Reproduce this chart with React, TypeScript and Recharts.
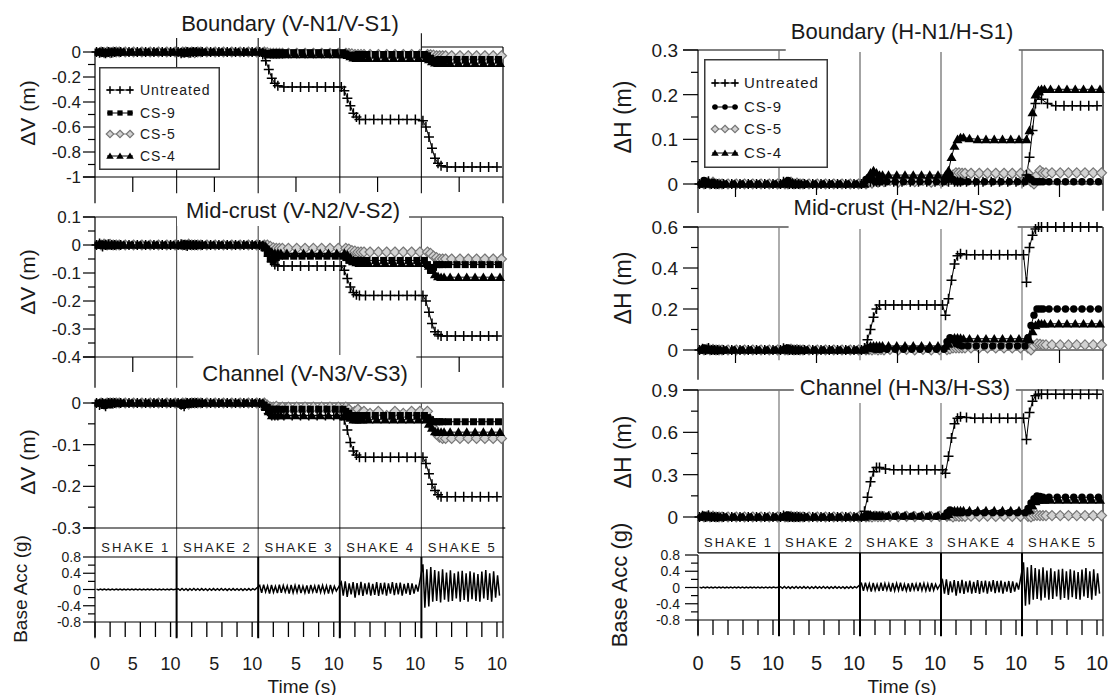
import React from 'react';
import { ComposedChart, Line, XAxis, YAxis, ReferenceLine } from 'recharts';

const FONT = '"Liberation Sans", Arial, Helvetica, sans-serif';
const SEG = 10.8; // length of one shake window on the shared time axis (s)
const XMAX = 54;
const SHAKES = ['SHAKE 1', 'SHAKE 2', 'SHAKE 3', 'SHAKE 4', 'SHAKE 5'];
const LEGEND = ['Untreated', 'CS-9', 'CS-5', 'CS-4'];

// sample times inside every shake window (s); each series is sampled with a small time offset
const T = [0.2, 0.6, 1.0, 1.4, 1.8, 2.2, 2.6, 3.4, 4.5, 5.6, 6.7, 7.8, 8.9, 10.0];
const SERIES_OFFSET = { u: 0, c9: 0.2, c4: 0.4, c5: 0.6 };

// ---------- Boundary (V-N1/V-S1) ----------
const vbUntreated = [
  [0, -0.005, 0, -0.01, 0, -0.005, 0, 0, 0, 0, 0, 0, 0, 0],
  [0, -0.01, -0.005, 0, -0.005, 0, 0, 0, 0, 0, 0, 0, 0, 0],
  [0, -0.02, -0.07, -0.14, -0.21, -0.25, -0.27, -0.28, -0.28, -0.28, -0.28, -0.28, -0.28, -0.28],
  [-0.28, -0.31, -0.37, -0.43, -0.49, -0.52, -0.54, -0.54, -0.54, -0.54, -0.54, -0.54, -0.54, -0.54],
  [-0.55, -0.6, -0.68, -0.77, -0.85, -0.89, -0.91, -0.92, -0.92, -0.92, -0.92, -0.92, -0.92, -0.92],
];
const vbCS9 = [
  [0, 0, -0.01, -0.005, 0, 0, 0, 0, 0, 0, 0, 0, 0, 0],
  [0, -0.005, -0.01, 0, 0, 0, 0, 0, 0, 0, 0, 0, 0, 0],
  [0, -0.01, -0.015, -0.01, -0.005, -0.005, -0.005, -0.005, -0.005, -0.005, -0.005, -0.005, -0.005, -0.005],
  [-0.005, -0.015, -0.025, -0.03, -0.025, -0.02, -0.02, -0.02, -0.02, -0.02, -0.02, -0.02, -0.02, -0.02],
  [-0.02, -0.03, -0.05, -0.07, -0.065, -0.06, -0.06, -0.06, -0.06, -0.06, -0.06, -0.06, -0.06, -0.06],
];
const vbCS5 = [
  [0, -0.005, 0, -0.005, 0, 0, 0, 0, 0, 0, 0, 0, 0, 0],
  [0, 0, -0.005, 0, -0.005, 0, 0, 0, 0, 0, 0, 0, 0, 0],
  [0, -0.005, -0.01, -0.01, -0.01, -0.01, -0.01, -0.01, -0.01, -0.01, -0.01, -0.01, -0.01, -0.01],
  [-0.01, -0.012, -0.015, -0.02, -0.02, -0.02, -0.02, -0.02, -0.02, -0.02, -0.02, -0.02, -0.02, -0.02],
  [-0.02, -0.022, -0.025, -0.03, -0.03, -0.03, -0.03, -0.03, -0.03, -0.03, -0.03, -0.03, -0.03, -0.03],
];
const vbCS4 = [
  [0, 0, -0.005, 0, 0, 0, 0, 0, 0, 0, 0, 0, 0, 0],
  [0, -0.005, 0, 0, 0, 0, 0, 0, 0, 0, 0, 0, 0, 0],
  [0, -0.01, -0.02, -0.02, -0.02, -0.02, -0.02, -0.02, -0.02, -0.02, -0.02, -0.02, -0.02, -0.02],
  [-0.02, -0.025, -0.035, -0.045, -0.05, -0.05, -0.05, -0.05, -0.05, -0.05, -0.05, -0.05, -0.05, -0.05],
  [-0.05, -0.06, -0.075, -0.085, -0.09, -0.09, -0.09, -0.09, -0.09, -0.09, -0.09, -0.09, -0.09, -0.09],
];

// ---------- Mid-crust (V-N2/V-S2) ----------
const vmUntreated = [
  [0, 0.005, -0.005, 0, 0.003, 0, 0, 0, 0, 0, 0, 0, 0, 0],
  [0, 0.003, 0, -0.004, 0, 0, 0, 0, 0, 0, 0, 0, 0, 0],
  [0, -0.005, -0.02, -0.04, -0.06, -0.07, -0.075, -0.075, -0.075, -0.075, -0.075, -0.075, -0.075, -0.075],
  [-0.075, -0.09, -0.12, -0.15, -0.17, -0.178, -0.18, -0.18, -0.18, -0.18, -0.18, -0.18, -0.18, -0.18],
  [-0.18, -0.2, -0.24, -0.28, -0.31, -0.32, -0.325, -0.325, -0.325, -0.325, -0.325, -0.325, -0.325, -0.325],
];
const vmCS9 = [
  [0, 0.004, 0, -0.003, 0, 0, 0, 0, 0, 0, 0, 0, 0, 0],
  [0, -0.003, 0.004, 0, 0, 0, 0, 0, 0, 0, 0, 0, 0, 0],
  [0, -0.01, -0.03, -0.05, -0.055, -0.045, -0.04, -0.04, -0.04, -0.04, -0.04, -0.04, -0.04, -0.04],
  [-0.04, -0.045, -0.055, -0.06, -0.055, -0.055, -0.055, -0.055, -0.055, -0.055, -0.055, -0.055, -0.055, -0.055],
  [-0.055, -0.07, -0.09, -0.08, -0.07, -0.07, -0.07, -0.07, -0.07, -0.07, -0.07, -0.07, -0.07, -0.07],
];
const vmCS5 = [
  [0, 0.003, 0, 0.002, 0, 0, 0, 0, 0, 0, 0, 0, 0, 0],
  [0, 0, 0.003, 0, 0, 0, 0, 0, 0, 0, 0, 0, 0, 0],
  [0, 0, -0.005, -0.01, -0.012, -0.012, -0.012, -0.012, -0.012, -0.012, -0.012, -0.012, -0.012, -0.012],
  [-0.012, -0.015, -0.02, -0.022, -0.025, -0.025, -0.025, -0.025, -0.025, -0.025, -0.025, -0.025, -0.025, -0.025],
  [-0.025, -0.03, -0.04, -0.045, -0.05, -0.05, -0.05, -0.05, -0.05, -0.05, -0.05, -0.05, -0.05, -0.05],
];
const vmCS4 = [
  [0, 0, 0.003, 0, 0, 0, 0, 0, 0, 0, 0, 0, 0, 0],
  [0, 0.003, 0, 0, 0, 0, 0, 0, 0, 0, 0, 0, 0, 0],
  [0, -0.005, -0.015, -0.025, -0.03, -0.03, -0.03, -0.03, -0.03, -0.03, -0.03, -0.03, -0.03, -0.03],
  [-0.03, -0.035, -0.045, -0.055, -0.062, -0.065, -0.065, -0.065, -0.065, -0.065, -0.065, -0.065, -0.065, -0.065],
  [-0.065, -0.075, -0.09, -0.105, -0.112, -0.115, -0.115, -0.115, -0.115, -0.115, -0.115, -0.115, -0.115, -0.115],
];

// ---------- Channel (V-N3/V-S3) ----------
const vcUntreated = [
  [0, -0.005, 0, -0.008, 0, 0, 0, 0, 0, 0, 0, 0, 0, 0],
  [0, -0.004, -0.008, 0, 0, 0, 0, 0, 0, 0, 0, 0, 0, 0],
  [0, -0.005, -0.015, -0.025, -0.03, -0.03, -0.03, -0.03, -0.03, -0.03, -0.03, -0.03, -0.03, -0.03],
  [-0.03, -0.04, -0.065, -0.095, -0.115, -0.125, -0.13, -0.13, -0.13, -0.13, -0.13, -0.13, -0.13, -0.13],
  [-0.13, -0.145, -0.17, -0.195, -0.21, -0.22, -0.225, -0.225, -0.225, -0.225, -0.225, -0.225, -0.225, -0.225],
];
const vcCS9 = [
  [0, 0, -0.006, 0, 0, 0, 0, 0, 0, 0, 0, 0, 0, 0],
  [0, -0.006, 0, -0.003, 0, 0, 0, 0, 0, 0, 0, 0, 0, 0],
  [0, -0.005, -0.01, -0.015, -0.015, -0.015, -0.015, -0.015, -0.015, -0.015, -0.015, -0.015, -0.015, -0.015],
  [-0.015, -0.02, -0.025, -0.03, -0.03, -0.03, -0.03, -0.03, -0.03, -0.03, -0.03, -0.03, -0.03, -0.03],
  [-0.03, -0.035, -0.04, -0.045, -0.045, -0.045, -0.045, -0.045, -0.045, -0.045, -0.045, -0.045, -0.045, -0.045],
];
const vcCS5 = [
  [0, -0.003, 0, 0, 0, 0, 0, 0, 0, 0, 0, 0, 0, 0],
  [0, 0, -0.003, 0, 0, 0, 0, 0, 0, 0, 0, 0, 0, 0],
  [0, -0.005, -0.01, -0.01, -0.008, -0.012, -0.01, -0.01, -0.01, -0.01, -0.01, -0.01, -0.01, -0.01],
  [-0.01, -0.015, -0.025, -0.02, -0.015, -0.025, -0.02, -0.025, -0.02, -0.03, -0.02, -0.025, -0.02, -0.02],
  [-0.02, -0.04, -0.06, -0.075, -0.082, -0.085, -0.085, -0.085, -0.085, -0.085, -0.085, -0.085, -0.085, -0.085],
];
const vcCS4 = [
  [0, 0, 0, -0.004, 0, 0, 0, 0, 0, 0, 0, 0, 0, 0],
  [0, -0.003, 0, 0, 0, 0, 0, 0, 0, 0, 0, 0, 0, 0],
  [0, -0.01, -0.02, -0.03, -0.03, -0.03, -0.03, -0.03, -0.03, -0.03, -0.03, -0.03, -0.03, -0.03],
  [-0.03, -0.032, -0.036, -0.04, -0.04, -0.04, -0.04, -0.04, -0.04, -0.04, -0.04, -0.04, -0.04, -0.04],
  [-0.04, -0.05, -0.06, -0.068, -0.07, -0.07, -0.07, -0.07, -0.07, -0.07, -0.07, -0.07, -0.07, -0.07],
];

// ---------- Boundary (H-N1/H-S1) ----------
const hbUntreated = [
  [0, 0.004, 0, 0.006, 0, 0, 0, 0, 0, 0, 0, 0, 0, 0],
  [0, 0.005, 0.002, 0, 0, 0, 0, 0, 0, 0, 0, 0, 0, 0],
  [0, 0.005, 0.01, 0.005, 0.005, 0.005, 0.005, 0.005, 0.005, 0.005, 0.005, 0.005, 0.005, 0.005],
  [0.005, 0.01, 0.005, 0.01, 0.005, 0.005, 0.005, 0.005, 0.005, 0.005, 0.005, 0.005, 0.005, 0.005],
  [0.005, 0.02, 0.06, 0.12, 0.18, 0.2, 0.19, 0.18, 0.175, 0.175, 0.175, 0.175, 0.175, 0.175],
];
const hbCS9 = [
  [0, 0.008, 0.004, 0, 0.004, 0, 0, 0, 0, 0, 0, 0, 0, 0],
  [0, 0.004, 0.008, 0.002, 0, 0, 0, 0, 0, 0, 0, 0, 0, 0],
  [0, 0.01, 0.015, 0.01, 0.005, 0.005, 0.005, 0.005, 0.005, 0.005, 0.005, 0.005, 0.005, 0.005],
  [0.005, 0.01, 0.02, 0.01, 0.005, 0.005, 0.005, 0.005, 0.005, 0.005, 0.005, 0.005, 0.005, 0.005],
  [0.005, 0.015, 0.01, 0.005, 0.005, 0.005, 0.005, 0.005, 0.005, 0.005, 0.005, 0.005, 0.005, 0.005],
];
const hbCS5 = [
  [0, 0.003, 0, 0.004, 0, 0, 0, 0, 0, 0, 0, 0, 0, 0],
  [0, 0, 0.004, 0, 0.002, 0, 0, 0, 0, 0, 0, 0, 0, 0],
  [0, 0.005, 0.002, 0.01, 0.004, 0.01, 0.005, 0.008, 0.004, 0.009, 0.005, 0.008, 0.004, 0.008],
  [0.008, 0.015, 0.02, 0.025, 0.025, 0.024, 0.024, 0.024, 0.024, 0.024, 0.024, 0.024, 0.024, 0.024],
  [0.024, 0.005, 0, 0.02, 0.03, 0.025, 0.025, 0.025, 0.025, 0.025, 0.025, 0.025, 0.025, 0.025],
];
const hbCS4 = [
  [0, 0.002, 0.005, 0, 0, 0, 0, 0, 0, 0, 0, 0, 0, 0],
  [0, 0.006, 0, 0.003, 0, 0, 0, 0, 0, 0, 0, 0, 0, 0],
  [0, 0.01, 0.025, 0.03, 0.025, 0.02, 0.02, 0.02, 0.02, 0.02, 0.02, 0.02, 0.02, 0.02],
  [0.02, 0.03, 0.06, 0.085, 0.1, 0.104, 0.104, 0.102, 0.1, 0.1, 0.1, 0.1, 0.1, 0.1],
  [0.1, 0.12, 0.16, 0.2, 0.21, 0.212, 0.212, 0.212, 0.212, 0.212, 0.212, 0.212, 0.212, 0.212],
];

// ---------- Mid-crust (H-N2/H-S2) ----------
const hmUntreated = [
  [0, 0.006, 0, 0.01, 0, 0, 0, 0, 0, 0, 0, 0, 0, 0],
  [0, 0.008, 0.004, 0, 0, 0, 0, 0, 0, 0, 0, 0, 0, 0],
  [0, 0.01, 0.05, 0.1, 0.16, 0.2, 0.22, 0.22, 0.22, 0.22, 0.22, 0.22, 0.22, 0.22],
  [0.22, 0.17, 0.25, 0.34, 0.42, 0.46, 0.47, 0.465, 0.465, 0.465, 0.465, 0.465, 0.465, 0.465],
  [0.465, 0.33, 0.5, 0.56, 0.59, 0.6, 0.6, 0.6, 0.6, 0.6, 0.6, 0.6, 0.6, 0.6],
];
const hmCS9 = [
  [0, 0.01, 0.005, 0, 0.004, 0, 0, 0, 0, 0, 0, 0, 0, 0],
  [0, 0.006, 0.01, 0.003, 0, 0, 0, 0, 0, 0, 0, 0, 0, 0],
  [0, 0.008, 0.012, 0.006, 0.004, 0.004, 0.004, 0.004, 0.004, 0.004, 0.004, 0.004, 0.004, 0.004],
  [0.004, 0.04, 0.06, 0.05, 0.03, 0.025, 0.02, 0.02, 0.02, 0.02, 0.02, 0.02, 0.02, 0.02],
  [0.02, 0.06, 0.12, 0.17, 0.2, 0.2, 0.2, 0.2, 0.2, 0.2, 0.2, 0.2, 0.2, 0.2],
];
const hmCS5 = [
  [0, 0.004, 0, 0.003, 0, 0, 0, 0, 0, 0, 0, 0, 0, 0],
  [0, 0, 0.004, 0, 0.002, 0, 0, 0, 0, 0, 0, 0, 0, 0],
  [0, 0.002, 0, 0.004, 0, 0.003, 0, 0.003, 0, 0.003, 0, 0.003, 0, 0.002],
  [0.002, 0.005, 0.01, 0.01, 0.01, 0.01, 0.01, 0.01, 0.01, 0.01, 0.01, 0.01, 0.01, 0.01],
  [0.01, 0, 0.02, 0.03, 0.028, 0.025, 0.025, 0.025, 0.025, 0.025, 0.025, 0.025, 0.025, 0.025],
];
const hmCS4 = [
  [0, 0.003, 0.006, 0, 0, 0, 0, 0, 0, 0, 0, 0, 0, 0],
  [0, 0.005, 0, 0.004, 0, 0, 0, 0, 0, 0, 0, 0, 0, 0],
  [0, 0.01, 0.02, 0.02, 0.02, 0.02, 0.02, 0.02, 0.02, 0.02, 0.02, 0.02, 0.02, 0.02],
  [0.02, 0.03, 0.05, 0.06, 0.06, 0.058, 0.055, 0.055, 0.055, 0.055, 0.055, 0.055, 0.055, 0.055],
  [0.055, 0.05, 0.09, 0.12, 0.13, 0.128, 0.128, 0.128, 0.128, 0.128, 0.128, 0.128, 0.128, 0.128],
];

// ---------- Channel (H-N3/H-S3) ----------
const hcUntreated = [
  [0, 0.008, 0, 0.012, 0, 0, 0, 0, 0, 0, 0, 0, 0, 0],
  [0, 0.01, 0.004, 0, 0, 0, 0, 0, 0, 0, 0, 0, 0, 0],
  [0, 0.04, 0.14, 0.25, 0.32, 0.35, 0.35, 0.34, 0.335, 0.335, 0.335, 0.335, 0.335, 0.335],
  [0.335, 0.31, 0.43, 0.56, 0.66, 0.7, 0.71, 0.705, 0.7, 0.7, 0.7, 0.7, 0.7, 0.7],
  [0.7, 0.55, 0.74, 0.82, 0.86, 0.87, 0.87, 0.87, 0.87, 0.87, 0.87, 0.87, 0.87, 0.87],
];
const hcCS9 = [
  [0, 0.012, 0.006, 0, 0.005, 0, 0, 0, 0, 0, 0, 0, 0, 0],
  [0, 0.008, 0.014, 0.004, 0, 0, 0, 0, 0, 0, 0, 0, 0, 0],
  [0, 0.01, 0.015, 0.008, 0.005, 0.005, 0.005, 0.005, 0.005, 0.005, 0.005, 0.005, 0.005, 0.005],
  [0.005, 0.03, 0.05, 0.04, 0.03, 0.03, 0.03, 0.03, 0.03, 0.03, 0.03, 0.03, 0.03, 0.03],
  [0.03, 0.06, 0.1, 0.13, 0.15, 0.145, 0.14, 0.14, 0.14, 0.14, 0.14, 0.14, 0.14, 0.14],
];
const hcCS5 = [
  [0, 0.004, 0, 0.006, 0, 0, 0, 0, 0, 0, 0, 0, 0, 0],
  [0, 0, 0.005, 0, 0.003, 0, 0, 0, 0, 0, 0, 0, 0, 0],
  [0, 0.003, 0, 0.006, 0.002, 0.005, 0.003, 0.005, 0.003, 0.005, 0.003, 0.005, 0.003, 0.005],
  [0.005, 0.01, 0, 0.008, 0.004, 0.006, 0.004, 0.006, 0.004, 0.006, 0.004, 0.006, 0.004, 0.005],
  [0.005, 0, 0.01, 0.012, 0.01, 0.01, 0.01, 0.01, 0.01, 0.01, 0.01, 0.01, 0.01, 0.01],
];
const hcCS4 = [
  [0, 0.005, 0.01, 0, 0, 0, 0, 0, 0, 0, 0, 0, 0, 0],
  [0, 0.006, 0, 0.004, 0, 0, 0, 0, 0, 0, 0, 0, 0, 0],
  [0, 0.01, 0.015, 0.01, 0.01, 0.01, 0.01, 0.01, 0.01, 0.01, 0.01, 0.01, 0.01, 0.01],
  [0.01, 0.02, 0.035, 0.045, 0.045, 0.045, 0.045, 0.045, 0.045, 0.045, 0.045, 0.045, 0.045, 0.045],
  [0.045, 0.05, 0.08, 0.11, 0.12, 0.12, 0.12, 0.12, 0.12, 0.12, 0.12, 0.12, 0.12, 0.12],
];

// ---------- Base acceleration peaks (g), one list per shake ----------
const ACC_T0 = 0.2;
const ACC_DT = 0.26;
const accShake1 = [0.01, -0.01, 0.012, -0.008, 0.01, -0.012, 0.008, -0.01, 0.012, -0.01, 0.01, -0.008, 0.012, -0.01, 0.008, -0.012, 0.01, -0.01, 0.012, -0.008, 0.01, -0.01, 0.012, -0.01, 0.008, -0.012, 0.01, -0.008, 0.012, -0.01, 0.01, -0.01, 0.008, -0.012, 0.01, -0.01, 0.012, -0.008, 0.01, -0.005];
const accShake2 = [0.02, -0.02, 0.025, -0.018, 0.02, -0.022, 0.018, -0.02, 0.025, -0.02, 0.02, -0.018, 0.022, -0.02, 0.018, -0.025, 0.02, -0.02, 0.022, -0.018, 0.02, -0.02, 0.025, -0.02, 0.018, -0.022, 0.02, -0.018, 0.022, -0.02, 0.02, -0.02, 0.018, -0.022, 0.02, -0.02, 0.022, -0.018, 0.02, -0.01];
const accShake3 = [0.1, -0.08, 0.12, -0.06, 0.09, -0.1, 0.11, -0.07, 0.08, -0.09, 0.12, -0.08, 0.1, -0.06, 0.09, -0.1, 0.11, -0.08, 0.1, -0.07, 0.12, -0.09, 0.08, -0.08, 0.1, -0.1, 0.11, -0.06, 0.09, -0.09, 0.12, -0.07, 0.1, -0.08, 0.09, -0.1, 0.11, -0.07, 0.08, -0.04];
const accShake4 = [0.18, -0.15, 0.2, -0.18, 0.15, -0.12, 0.18, -0.2, 0.16, -0.14, 0.19, -0.16, 0.15, -0.12, 0.17, -0.15, 0.14, -0.13, 0.18, -0.16, 0.16, -0.12, 0.17, -0.15, 0.15, -0.1, 0.18, -0.14, 0.16, -0.12, 0.17, -0.15, 0.14, -0.1, 0.16, -0.13, 0.15, -0.1, 0.12, -0.05];
const accShake5 = [0.62, -0.45, 0.5, -0.42, 0.55, -0.3, 0.48, -0.28, 0.45, -0.32, 0.5, -0.25, 0.42, -0.3, 0.47, -0.28, 0.4, -0.22, 0.44, -0.3, 0.46, -0.26, 0.4, -0.3, 0.45, -0.24, 0.42, -0.28, 0.38, -0.3, 0.44, -0.22, 0.48, -0.26, 0.4, -0.3, 0.45, -0.2, 0.35, -0.15];
const baseAcc = [accShake1, accShake2, accShake3, accShake4, accShake5];

// ---------- tables built from the arrays ----------
function buildRows(u: number[][], c9: number[][], c5: number[][], c4: number[][]) {
  const rows: any[] = [];
  const src: [string, number[][]][] = [['u', u], ['c9', c9], ['c4', c4], ['c5', c5]];
  src.forEach(([key, arr]) => {
    const off = (SERIES_OFFSET as any)[key];
    for (let s = 0; s < 5; s++) {
      for (let i = 0; i < T.length; i++) {
        rows.push({ t: +(s * SEG + T[i] + off).toFixed(2), [key]: arr[s][i] });
      }
    }
  });
  rows.sort((a, b) => a.t - b.t);
  return rows;
}
function buildAcc() {
  const rows: any[] = [];
  baseAcc.forEach((arr, s) => arr.forEach((a, i) => rows.push({ t: +(s * SEG + ACC_T0 + i * ACC_DT).toFixed(3), a })));
  return rows;
}

const rowsVB = buildRows(vbUntreated, vbCS9, vbCS5, vbCS4);
const rowsVM = buildRows(vmUntreated, vmCS9, vmCS5, vmCS4);
const rowsVC = buildRows(vcUntreated, vcCS9, vcCS5, vcCS4);
const rowsHB = buildRows(hbUntreated, hbCS9, hbCS5, hbCS4);
const rowsHM = buildRows(hmUntreated, hmCS9, hmCS5, hmCS4);
const rowsHC = buildRows(hcUntreated, hcCS9, hcCS5, hcCS4);
const rowsAcc = buildAcc();

const midTicks = [0, 1, 2, 3, 4].map((s) => +(s * SEG + 5).toFixed(2));
const accTicks: number[] = [];
[0, 1, 2, 3, 4].forEach((s) => [0, 2, 4, 5, 6, 8, 10].forEach((t) => accTicks.push(+(s * SEG + t).toFixed(2))));

// ---------- markers ----------
function marker(kind: string, cx: number, cy: number, key: string, s = 1) {
  switch (kind) {
    case 'plus':
      return <path key={key} d={`M${cx - 5 * s},${cy}H${cx + 5 * s}M${cx},${cy - 5 * s}V${cy + 5 * s}`} stroke="#000" strokeWidth={1.5} fill="none" />;
    case 'square':
      return <rect key={key} x={cx - 3.5 * s} y={cy - 3.5 * s} width={7 * s} height={7 * s} fill="#000" />;
    case 'circle':
      return <circle key={key} cx={cx} cy={cy} r={3.7 * s} fill="#000" />;
    case 'diamond':
      return <path key={key} d={`M${cx},${cy - 5 * s}L${cx + 5 * s},${cy}L${cx},${cy + 5 * s}L${cx - 5 * s},${cy}Z`} fill="#d2d2d2" stroke="#777" strokeWidth={1.2} />;
    default:
      return <path key={key} d={`M${cx},${cy - 4.8 * s}L${cx + 5 * s},${cy + 3.8 * s}L${cx - 5 * s},${cy + 3.8 * s}Z`} fill="#000" />;
  }
}
const dotFn = (kind: string) => (p: any) => {
  const { cx, cy, index, value } = p;
  const v = Array.isArray(value) ? value[1] : value;
  if (v === undefined || v === null || typeof cx !== 'number' || typeof cy !== 'number' || isNaN(cx) || isNaN(cy)) {
    return <g key={`e-${kind}-${index}`} />;
  }
  return marker(kind, cx, cy, `${kind}-${index}`);
};

// ---------- ticks ----------
const yTick = (majors: number[], majLen: number, minLen: number, gap: number, fs: number) => (p: any) => {
  const { x, y, payload, index } = p;
  const v = payload.value;
  const isMaj = majors.some((m) => Math.abs(m - v) < 1e-9);
  return (
    <g key={`yt-${index}`}>
      <line x1={x - (isMaj ? majLen : minLen)} x2={x} y1={y} y2={y} stroke="#000" strokeWidth={1.2} />
      {isMaj && (
        <text x={x - gap} y={y} dy="0.36em" textAnchor="end" fontSize={fs} fill="#1a1a1a">
          {String(v)}
        </text>
      )}
    </g>
  );
};
const markTick = (len: number) => (p: any) => {
  const { x, y, index } = p;
  return <line key={`mt-${index}`} x1={x} x2={x} y1={y} y2={y + len} stroke="#000" strokeWidth={1.2} />;
};
const accTick = (fs: number, dy: number) => (p: any) => {
  const { x, y, payload, index } = p;
  const v = payload.value;
  const s = Math.floor((v + 0.05) / SEG);
  const local = Math.round((v - s * SEG) * 10) / 10;
  const mark = [0, 2, 4, 6, 8, 10].includes(local);
  const label = local === 5 || local === 10 || (s === 0 && local === 0);
  return (
    <g key={`at-${index}`}>
      {mark && <line x1={x} x2={x} y1={y} y2={y + 15} stroke="#000" strokeWidth={1.3} />}
      {label && (
        <text x={x} y={y + dy} dy="0.36em" textAnchor="middle" fontSize={fs} fill="#1a1a1a">
          {String(local)}
        </text>
      )}
    </g>
  );
};

// ---------- frame helper ----------
const seg = (k: string, x1: number, y1: number, x2: number, y2: number, color = '#000', w = 1.2) => (
  <ReferenceLine key={k} segment={[{ x: x1, y: y1 }, { x: x2, y: y2 }]} stroke={color} strokeWidth={w} ifOverflow="visible" />
);
const dividers = (pre: string, yTop: number, yBot: number, color: string, w = 1.2) =>
  [1, 2, 3, 4].map((k) => seg(`${pre}-d${k}`, k * SEG, yTop, k * SEG, yBot, color, w));

const dispLines = (circle9: boolean) => [
  <Line key="c5" dataKey="c5" type="linear" connectNulls stroke="#8a8a8a" strokeWidth={1} dot={dotFn('diamond')} activeDot={false} isAnimationActive={false} />,
  <Line key="c4" dataKey="c4" type="linear" connectNulls stroke="#000" strokeWidth={1} dot={dotFn('tri')} activeDot={false} isAnimationActive={false} />,
  <Line key="c9" dataKey="c9" type="linear" connectNulls stroke="#000" strokeWidth={1} dot={dotFn(circle9 ? 'circle' : 'square')} activeDot={false} isAnimationActive={false} />,
  <Line key="u" dataKey="u" type="linear" connectNulls stroke="#000" strokeWidth={1} dot={dotFn('plus')} activeDot={false} isAnimationActive={false} />,
];
const accLines = [<Line key="a" dataKey="a" type="linear" stroke="#000" strokeWidth={1.5} dot={false} activeDot={false} isAnimationActive={false} />];

type PanelCfg = {
  id: string; x: number; y: number; w: number; h: number; yw: number; mt: number; mr: number; xh: number;
  domain: [number, number]; majors: number[]; minors: number[];
  yfs: number; majLen: number; minLen: number; gap: number;
  data: any[]; xTicks: number[] | null; xTick: any; refs: React.ReactNode[]; lines: React.ReactNode[];
};

function renderPanel(c: PanelCfg) {
  return (
    <div key={c.id} style={{ position: 'absolute', left: c.x, top: c.y }}>
      <ComposedChart width={c.w} height={c.h} data={c.data} margin={{ top: c.mt, right: c.mr, bottom: 0, left: 0 }}>
        <XAxis
          type="number"
          dataKey="t"
          domain={[0, XMAX]}
          ticks={c.xTicks ?? undefined}
          interval={0}
          tickSize={0}
          tickMargin={0}
          tickLine={false}
          tick={c.xTicks ? c.xTick : false}
          height={c.xh}
          axisLine={{ stroke: '#000', strokeWidth: 1.2 }}
        />
        <YAxis
          type="number"
          domain={c.domain}
          ticks={[...c.majors, ...c.minors]}
          interval={0}
          tickSize={0}
          tickMargin={0}
          tickLine={false}
          tick={yTick(c.majors, c.majLen, c.minLen, c.gap, c.yfs)}
          width={c.yw}
          axisLine={{ stroke: '#000', strokeWidth: 1.2 }}
        />
        {c.refs}
        {c.lines}
      </ComposedChart>
    </div>
  );
}

// column geometry (page pixels)
const L = { x: 0, w: 520, yw: 95, mr: 17 };
const R = { x: 540, w: 578, yw: 158, mr: 15 };
const LPX = 408 / XMAX;
const RPX = 405 / XMAX;

const panels: PanelCfg[] = [
  {
    id: 'vb', x: L.x, y: 20, w: L.w, h: 190, yw: L.yw, mt: 32, mr: L.mr, xh: 33,
    domain: [-1, 0], majors: [0, -0.2, -0.4, -0.6, -0.8, -1], minors: [-0.1, -0.3, -0.5, -0.7, -0.9],
    yfs: 17, majLen: 12, minLen: 7, gap: 14, data: rowsVB, xTicks: midTicks, xTick: markTick(15),
    refs: [
      seg('vb-la', 0, -1, 0, -1.21), seg('vb-bl', -1.6, -1, 0, -1), seg('vb-rf', XMAX, 0.04, XMAX, -1.21),
      seg('vb-tr', 4 * SEG, 0.04, XMAX, 0.04), ...dividers('vb', 0.15, -1.13, '#222'),
    ],
    lines: dispLines(false),
  },
  {
    id: 'vm', x: L.x, y: 200, w: L.w, h: 192, yw: L.yw, mt: 17, mr: L.mr, xh: 35,
    domain: [-0.4, 0.1], majors: [0.1, 0, -0.1, -0.2, -0.3, -0.4], minors: [0.05, -0.05, -0.15, -0.25, -0.35],
    yfs: 17, majLen: 12, minLen: 7, gap: 14, data: rowsVM, xTicks: midTicks, xTick: markTick(15),
    refs: [
      seg('vm-top', -1.6, 0.1, XMAX, 0.1), seg('vm-la', 0, -0.4, 0, -0.51), seg('vm-bl', -1.6, -0.4, 0, -0.4),
      seg('vm-rf', XMAX, 0.1, XMAX, -0.51), ...dividers('vm', 0.1, -0.51, '#555'),
    ],
    lines: dispLines(false),
  },
  {
    id: 'vc', x: L.x, y: 390, w: L.w, h: 170, yw: L.yw, mt: 13, mr: L.mr, xh: 32,
    domain: [-0.3, 0], majors: [0, -0.1, -0.2, -0.3], minors: [-0.05, -0.15, -0.25],
    yfs: 17, majLen: 12, minLen: 7, gap: 14, data: rowsVC, xTicks: null, xTick: false,
    refs: [
      seg('vc-top', 0, 0, XMAX, 0), seg('vc-la', 0, -0.3, 0, -0.37), seg('vc-bl', -1.6, -0.3, 0, -0.3),
      seg('vc-br', XMAX, -0.3, XMAX + 0.3, -0.3), seg('vc-rf', XMAX, 0, XMAX, -0.37), ...dividers('vc', 0, -0.37, '#555'),
    ],
    lines: dispLines(false),
  },
  {
    id: 'al', x: L.x, y: 530, w: L.w, h: 165, yw: L.yw, mt: 27, mr: L.mr, xh: 73,
    domain: [-0.8, 0.8], majors: [0.8, 0.4, 0, -0.4, -0.8], minors: [0.6, 0.2, -0.2, -0.6],
    yfs: 14, majLen: 12, minLen: 7, gap: 14, data: rowsAcc, xTicks: accTicks, xTick: accTick(18, 42),
    refs: [
      seg('al-top', 0, 0.8, XMAX, 0.8), seg('al-la', 0, -0.8, 0, -1.2), seg('al-rf', XMAX, 0.8, XMAX, -1.2),
      ...dividers('al', 0.8, -1.2, '#000', 2),
    ],
    lines: accLines,
  },
  {
    id: 'hb', x: R.x, y: 18, w: R.w, h: 198, yw: R.yw, mt: 32, mr: R.mr, xh: 32,
    domain: [0, 0.3], majors: [0, 0.1, 0.2, 0.3], minors: [0.05, 0.15, 0.25],
    yfs: 19, majLen: 15, minLen: 7, gap: 20, data: rowsHB, xTicks: midTicks, xTick: markTick(13),
    refs: [
      seg('hb-top', -2, 0.3, XMAX, 0.3), seg('hb-la', 0, 0, 0, -0.065), seg('hb-rf', XMAX, 0.3, XMAX, -0.06),
      ...dividers('hb', 0.3, -0.01, '#666'),
    ],
    lines: dispLines(true),
  },
  {
    id: 'hm', x: R.x, y: 205, w: R.w, h: 177, yw: R.yw, mt: 22, mr: R.mr, xh: 32,
    domain: [0, 0.6], majors: [0, 0.2, 0.4, 0.6], minors: [0.1, 0.3, 0.5],
    yfs: 19, majLen: 15, minLen: 7, gap: 20, data: rowsHM, xTicks: midTicks, xTick: markTick(13),
    refs: [
      seg('hm-top', -2, 0.6, XMAX, 0.6), seg('hm-la', 0, 0, 0, -0.145), seg('hm-rf', XMAX, 0.6, XMAX, -0.145),
      ...dividers('hm', 0.6, -0.05, '#777'),
    ],
    lines: dispLines(true),
  },
  {
    id: 'hc', x: R.x, y: 375, w: R.w, h: 181, yw: R.yw, mt: 15, mr: R.mr, xh: 39,
    domain: [0, 0.9], majors: [0, 0.3, 0.6, 0.9], minors: [0.15, 0.45, 0.75],
    yfs: 19, majLen: 15, minLen: 7, gap: 20, data: rowsHC, xTicks: null, xTick: false,
    refs: [
      seg('hc-top', -2, 0.9, XMAX, 0.9), seg('hc-la', 0, 0, 0, -0.255), seg('hc-rf', XMAX, 0.9, XMAX, -0.255),
      ...dividers('hc', 0.9, -0.255, '#777'),
    ],
    lines: dispLines(true),
  },
  {
    id: 'ar', x: R.x, y: 525, w: R.w, h: 170, yw: R.yw, mt: 30, mr: R.mr, xh: 75,
    domain: [-0.8, 0.8], majors: [0.8, 0.4, 0, -0.4, -0.8], minors: [0.6, 0.2, -0.2, -0.6],
    yfs: 14, majLen: 13, minLen: 7, gap: 18, data: rowsAcc, xTicks: accTicks, xTick: accTick(20, 43),
    refs: [
      seg('ar-top', 0, 0.85, XMAX, 0.85), seg('ar-la', 0, -0.8, 0, -1.2), seg('ar-rf', XMAX, 0.85, XMAX, -1.2),
      ...dividers('ar', 0.85, -1.2, '#000', 2),
    ],
    lines: accLines,
  },
];

// ---------- overlays ----------
type TitleCfg = { text: string; cx: number; cy: number; fs: number; pt: number; pb: number; px: number };
const titles: TitleCfg[] = [
  { text: 'Boundary (V-N1/V-S1)', cx: 290, cy: 24, fs: 22, pt: 3, pb: 3, px: 6 },
  { text: 'Mid-crust (V-N2/V-S2)', cx: 293, cy: 211, fs: 22, pt: 3, pb: 4, px: 9 },
  { text: 'Channel (V-N3/V-S3)', cx: 305, cy: 374, fs: 22, pt: 8, pb: 3, px: 9 },
  { text: 'Boundary (H-N1/H-S1)', cx: 902, cy: 32, fs: 22, pt: 3, pb: 9, px: 5 },
  { text: 'Mid-crust (H-N2/H-S2)', cx: 903, cy: 208, fs: 22, pt: 2, pb: 10, px: 5 },
  { text: 'Channel (H-N3/H-S3)', cx: 905, cy: 388, fs: 22, pt: 2, pb: 4, px: 6 },
];
type VLabel = { text: string; cx: number; cy: number; fs: number };
const yLabels: VLabel[] = [
  { text: 'ΔV (m)', cx: 27, cy: 113, fs: 21 },
  { text: 'ΔV (m)', cx: 27, cy: 282, fs: 21 },
  { text: 'ΔV (m)', cx: 27, cy: 462, fs: 21 },
  { text: 'Base Acc (g)', cx: 20, cy: 589, fs: 19 },
  { text: 'ΔH (m)', cx: 623, cy: 117, fs: 23 },
  { text: 'ΔH (m)', cx: 623, cy: 288, fs: 23 },
  { text: 'ΔH (m)', cx: 623, cy: 452, fs: 23 },
  { text: 'Base Acc (g)', cx: 620, cy: 585, fs: 22 },
];

function LegendBox(props: { x: number; y: number; w: number; h: number; rows: number[]; sym: number[]; tx: number; fs: number; circle9: boolean }) {
  const kinds = ['plus', props.circle9 ? 'circle' : 'square', 'diamond', 'tri'];
  return (
    <div style={{ position: 'absolute', left: props.x, top: props.y }}>
      <svg width={props.w} height={props.h}>
        <rect x={0.75} y={0.75} width={props.w - 1.5} height={props.h - 1.5} fill="#fff" stroke="#3a3a3a" strokeWidth={1.5} />
        {LEGEND.map((name, i) => (
          <g key={name}>
            <line x1={props.sym[0] - 3} x2={props.sym[2] + 3} y1={props.rows[i]} y2={props.rows[i]} stroke={i === 2 ? '#888' : '#000'} strokeWidth={1} />
            {props.sym.map((sx, j) => marker(kinds[i], sx, props.rows[i], `lg-${i}-${j}`, 0.75))}
            <text x={props.tx} y={props.rows[i]} dy="0.36em" fontSize={props.fs} letterSpacing={1} fill="#1a1a1a">
              {name}
            </text>
          </g>
        ))}
      </svg>
    </div>
  );
}

export default function App() {
  const shakeLabels: { text: string; cx: number; cy: number }[] = [];
  SHAKES.forEach((s, k) => {
    shakeLabels.push({ text: s, cx: 95 + (k + 0.5) * SEG * LPX, cy: 547 });
    shakeLabels.push({ text: s, cx: 698 + (k + 0.5) * SEG * RPX, cy: 542 });
  });
  return (
    <div style={{ position: 'absolute', left: 0, top: 0, width: 1118, height: 695, background: '#fff', fontFamily: FONT, color: '#1a1a1a', overflow: 'hidden' }}>
      {panels.map(renderPanel)}
      {titles.map((t) => (
        <div
          key={t.text}
          style={{
            position: 'absolute', left: t.cx, top: t.cy - t.fs / 2 - t.pt, transform: 'translateX(-50%)',
            background: '#fff', padding: `${t.pt}px ${t.px}px ${t.pb}px ${t.px}px`, fontSize: t.fs, lineHeight: 1, whiteSpace: 'nowrap',
          }}
        >
          {t.text}
        </div>
      ))}
      {yLabels.map((l, i) => (
        <div
          key={`yl-${i}`}
          style={{ position: 'absolute', left: l.cx, top: l.cy, transform: 'translate(-50%, -50%) rotate(-90deg)', fontSize: l.fs, lineHeight: 1, whiteSpace: 'nowrap' }}
        >
          {l.text}
        </div>
      ))}
      {shakeLabels.map((l, i) => (
        <div
          key={`sk-${i}`}
          style={{ position: 'absolute', left: l.cx, top: l.cy, transform: 'translate(-50%, -50%)', fontSize: 13, letterSpacing: 2, lineHeight: 1, whiteSpace: 'nowrap' }}
        >
          {l.text}
        </div>
      ))}
      {[302, 902].map((cx) => (
        <div key={`tx-${cx}`} style={{ position: 'absolute', left: cx, top: 686, transform: 'translate(-50%, -50%)', fontSize: 19, lineHeight: 1, whiteSpace: 'nowrap' }}>
          Time (s)
        </div>
      ))}
      <LegendBox x={99} y={67} w={121} h={103} rows={[23, 46, 67, 89]} sym={[11, 21, 31]} tx={41} fs={14} circle9={false} />
      <LegendBox x={704} y={59} w={124} h={109} rows={[24, 48, 70, 94]} sym={[11, 21, 31]} tx={40} fs={15} circle9={true} />
    </div>
  );
}
